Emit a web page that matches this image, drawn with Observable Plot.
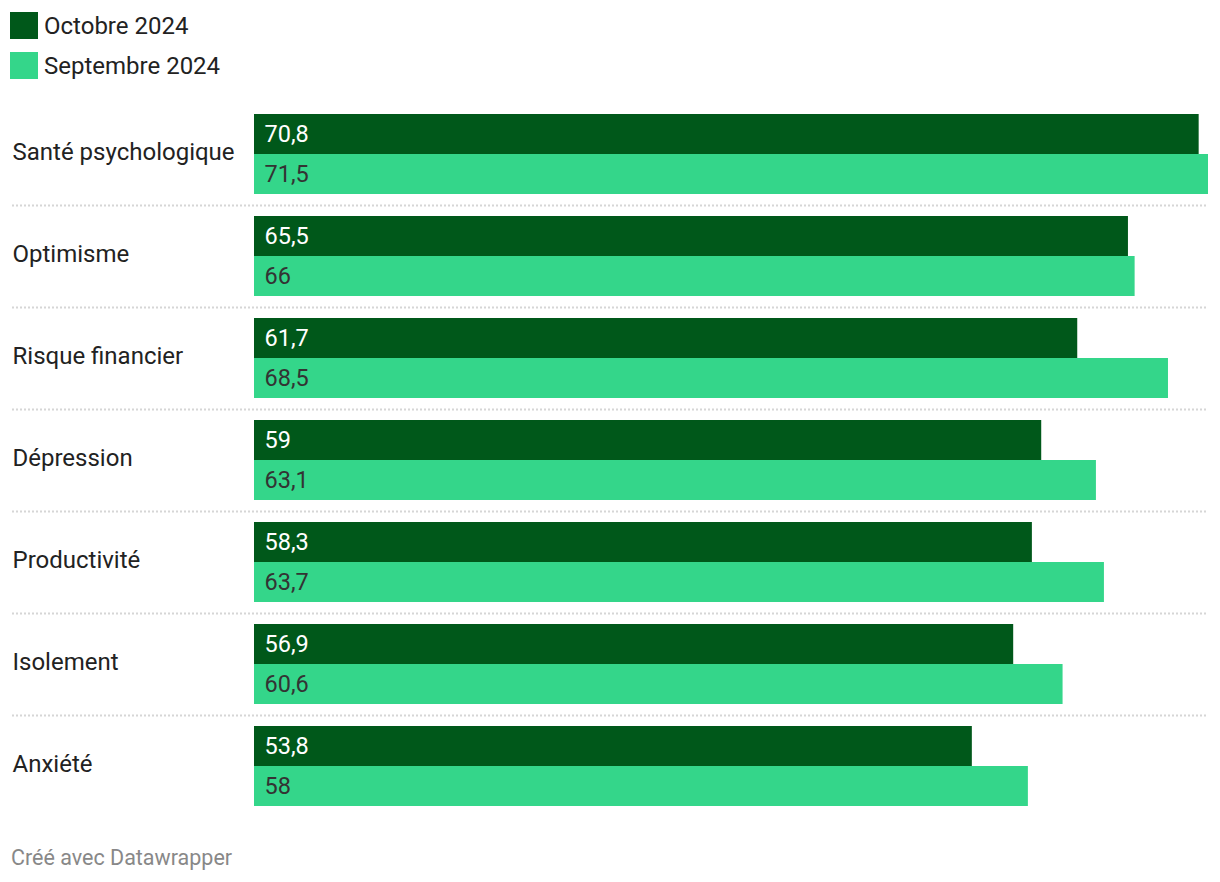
<!DOCTYPE html>
<html>
<head>
<meta charset="utf-8">
<script src="https://cdn.jsdelivr.net/npm/d3@7"></script>
<script src="https://cdn.jsdelivr.net/npm/@observablehq/plot@0.6"></script>
<style>
  html, body { margin: 0; padding: 0; background: #fff; }
  body { width: 1220px; height: 882px; position: relative; font-family: Roboto, "Noto Sans", sans-serif; color: #222; }
  #legend { position: absolute; left: 10px; top: 12px; }
  .item { display: flex; align-items: center; height: 27px; margin-bottom: 13px; font-size: 24px; }
  .sw { width: 28px; height: 27px; margin-right: 6px; flex: none; }
  #chart { position: absolute; left: 0; top: 103px; }
  #footer { position: absolute; left: 11px; top: 845px; font-size: 21.5px; color: #888; }
</style>
</head>
<body>
<div id="legend"></div>
<div id="chart"></div>
<div id="footer">Créé avec Datawrapper</div>
<script>
const categories = ["Santé psychologique", "Optimisme", "Risque financier", "Dépression", "Productivité", "Isolement", "Anxiété"];
const series = ["Octobre 2024", "Septembre 2024"];
const octobre = [70.8, 65.5, 61.7, 59, 58.3, 56.9, 53.8];
const septembre = [71.5, 66, 68.5, 63.1, 63.7, 60.6, 58];
const colors = ["#00581a", "#34d68a"];
const labelColors = ["#ffffff", "#333333"];

const data = [];
categories.forEach((c, i) => {
  data.push({category: c, series: series[0], value: octobre[i]});
  data.push({category: c, series: series[1], value: septembre[i]});
});

const fmt = v => String(v).replace(".", ",");

const legend = document.getElementById("legend");
series.forEach((s, i) => {
  const it = document.createElement("div");
  it.className = "item";
  it.innerHTML = `<div class="sw" style="background:${colors[i]}"></div><span>${s}</span>`;
  legend.appendChild(it);
});

const chart = Plot.plot({
  width: 1220,
  height: 714,
  marginTop: 0,
  marginBottom: 0,
  marginLeft: 12,
  marginRight: 12,
  style: {fontFamily: "Roboto, sans-serif", background: "transparent"},
  x: {domain: [0, d3.max(septembre.concat(octobre))], range: [254, 1208], axis: null},
  y: {domain: series, padding: 0, axis: null},
  fy: {domain: categories, paddingInner: 22 / 102, paddingOuter: 11 / 102, axis: null},
  color: {domain: series, range: colors},
  marks: [
    Plot.ruleY(categories.slice(0, -1).map(c => ({category: c})), {
      y: () => series[1], fy: "category", dy: 31,
      stroke: "#d6d6d6", strokeWidth: 2, strokeDasharray: "2,2"
    }),
    Plot.barX(data, {x: "value", y: "series", fy: "category", fill: "series"}),
    Plot.text(data, {
      x: 0, y: "series", fy: "category", text: d => fmt(d.value),
      dx: 10, textAnchor: "start", fontSize: 23.5,
      fill: d => labelColors[series.indexOf(d.series)]
    }),
    Plot.text(categories.map(c => ({category: c})), {
      fy: "category", text: "category", frameAnchor: "left",
      textAnchor: "start", fontSize: 24, fill: "#222", dy: -2
    })
  ]
});
document.getElementById("chart").appendChild(chart);
</script>
</body>
</html>
